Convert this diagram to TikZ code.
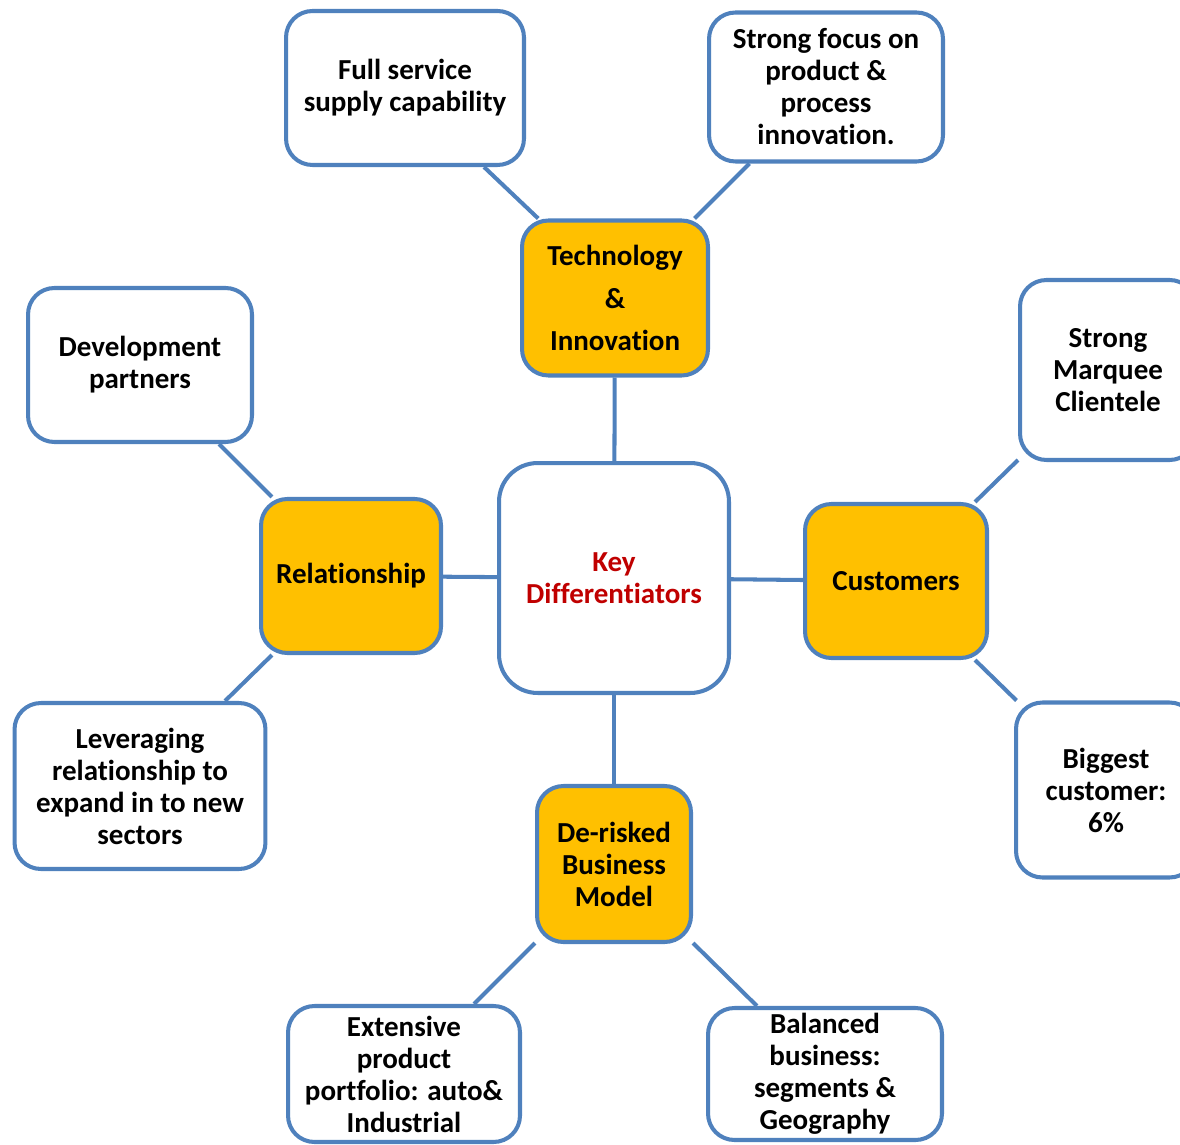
\documentclass[tikz,border=0pt]{standalone}
\usepackage{fontspec}
\setmainfont{Carlito}[Ligatures=NoCommon]
\usepackage{tikz}
\definecolor{boxblue}{RGB}{79, 129, 189}
\definecolor{hubgold}{RGB}{255, 192, 0}
\definecolor{keyred}{RGB}{192, 0, 0}
\tikzstyle{leaf} = [rectangle, rounded corners=15pt, draw=boxblue,
                    fill=white, line width=2.3pt, inner sep=0pt,
                    align=center, font=\bfseries\fontsize{16.5}{18.2}\selectfont]
\tikzstyle{hub} = [leaf, fill=hubgold]
\tikzstyle{link} = [draw=boxblue, line width=2.3pt]

\begin{document}
\begin{tikzpicture}[x=0.02cm, y=-0.02cm]
    \useasboundingbox (0,0) rectangle (1180,1145);

    % centre
    \node (Key) [leaf, rounded corners=22pt, minimum width=4.6cm, minimum height=4.6cm,
                 text=keyred] at (614,578) {Key\\Differentiators};

    % hubs
    \node (Tech) [hub, minimum width=3.72cm, minimum height=3.1cm,
                  font=\bfseries\fontsize{16.5}{24}\selectfont] at (615,298) {Technology\\\&\\Innovation};
    \node (Rel) [hub, minimum width=3.6cm, minimum height=3.08cm] at (351,576) {Relationship};
    \node (Cust) [hub, minimum width=3.64cm, minimum height=3.08cm] at (896,581) {Customers};
    \node (Derisk) [hub, minimum width=3.08cm, minimum height=3.12cm] at (614,864) {De-risked\\Business\\Model};

    % leaves
    \node (Full) [leaf, minimum width=4.76cm, minimum height=3.08cm] at (405,88) {Full service\\supply capability};
    \node (Focus) [leaf, minimum width=4.68cm, minimum height=2.98cm] at (826,87) {Strong focus on\\product \&\\process\\innovation.};
    \node (Dev) [leaf, minimum width=4.48cm, minimum height=3.08cm] at (140,365) {Development\\partners};
    \node (Lev) [leaf, minimum width=5.02cm, minimum height=3.32cm] at (140,786) {Leveraging\\relationship to\\expand in to new\\sectors};
    \node (Marq) [leaf, minimum width=3.52cm, minimum height=3.6cm] at (1108,370) {Strong\\Marquee\\Clientele};
    \node (Big) [leaf, minimum width=3.6cm, minimum height=3.5cm] at (1106,790) {Biggest\\customer:\\6\%};
    \node (Ext) [leaf, minimum width=4.64cm, minimum height=2.72cm] at (404,1074) {Extensive\\product\\portfolio: auto\&\\Industrial};
    \node (Bal) [leaf, minimum width=4.68cm, minimum height=2.64cm] at (825,1074) {Balanced\\business:\\segments \&\\Geography};

    %hubs to centre
    \draw [link] (Tech) -- (Key);
    \draw [link] (Rel) -- (Key);
    \draw [link] (Cust) -- (Key);
    \draw [link] (Derisk) -- (Key);

    %leaves to hubs
    \draw [link] (Tech.134) -- (Full.-45);
    \draw [link] (Tech.45) -- (Focus.-135);
    \draw [link] (Rel.135) -- (Dev.-45);
    \draw [link] (Rel.-135) -- (Lev.45);
    \draw [link] (Cust.45) -- (Marq.-135);
    \draw [link] (Cust.-45) -- (Big.135);
    \draw [link] (Derisk.-135) -- (Ext.45);
    \draw [link] (Derisk.-45) -- (Bal.135);

\end{tikzpicture}
\end{document}
